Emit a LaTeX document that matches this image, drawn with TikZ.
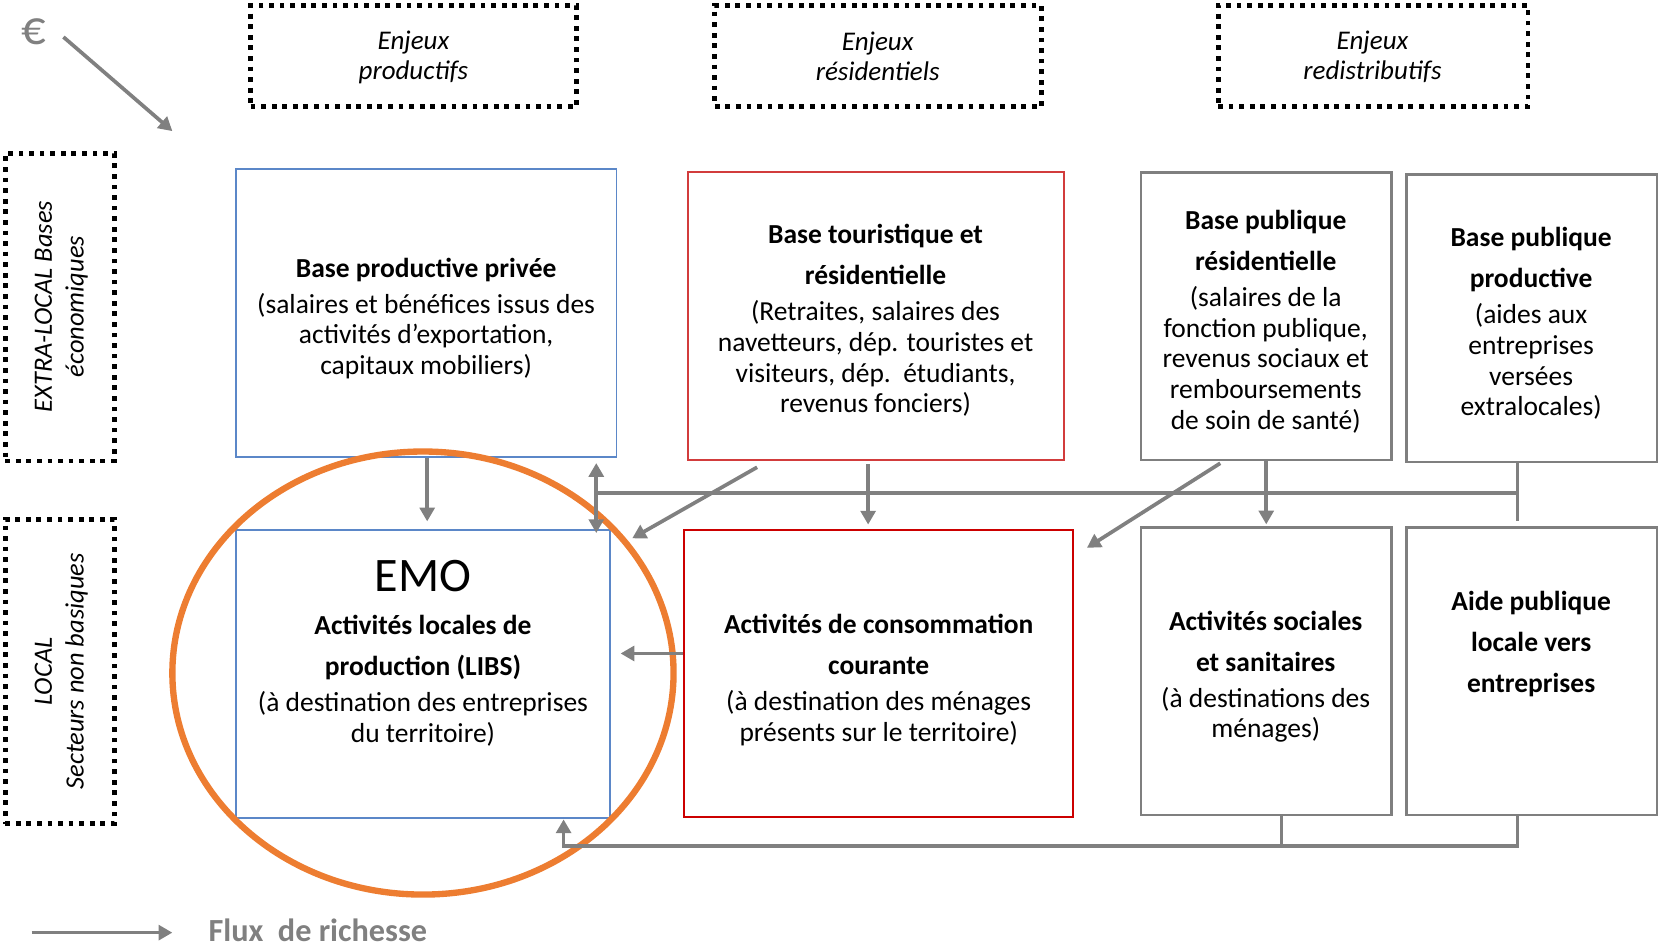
\documentclass[tikz,border=0pt]{standalone}
\usepackage{fontspec}
\setmainfont{Carlito}
\usetikzlibrary{arrows.meta,calc}
\definecolor{bblue}{HTML}{5B87C8}
\definecolor{bredA}{HTML}{D23C3C}
\definecolor{bredB}{HTML}{CC0000}
\definecolor{bgray}{HTML}{7F7F7F}
\definecolor{agray}{HTML}{808080}
\definecolor{eorange}{HTML}{ED7D31}
\tikzset{
  box/.style={rectangle, inner sep=0pt, line width=1.8pt, fill=white},
  bluebox/.style={box, draw=bblue},
  redboxA/.style={box, draw=bredA},
  redboxB/.style={box, draw=bredB},
  graybox/.style={box, draw=bgray, line width=2.2pt},
  dotbox/.style={rectangle, inner sep=0pt, draw=black, line width=4.5pt, dash pattern=on 4.5pt off 5.5pt},
  txt/.style={align=center, inner sep=0pt, text=black, font=\fontsize{26}{29}\selectfont},
  enj/.style={align=center, inner sep=0pt, text=black, font=\itshape\fontsize{25.5}{28}\selectfont},
  side/.style={align=center, inner sep=0pt, text=black, rotate=90, font=\itshape\fontsize{25}{30}\selectfont},
  gline/.style={draw=agray, line width=3.5pt},
  flow/.style={gline, -{Triangle[length=13pt,width=14pt]}},
  flowboth/.style={gline, {Triangle[length=13pt,width=14pt]}-{Triangle[length=13pt,width=14pt]}},
}
\begin{document}
\begin{tikzpicture}[x=1pt,y=-1pt]
\useasboundingbox (0,0) rectangle (1568,897);

% header dotted boxes
\node[dotbox, minimum width=308pt, minimum height=96pt] (ep) at (391,53) {};
\node[dotbox, minimum width=309pt, minimum height=96pt] (er) at (830.5,53) {};
\node[dotbox, minimum width=293pt, minimum height=96pt] (ed) at (1298.5,53) {};
\node[enj] (ept) at (391,54) {Enjeux\\productifs};
\node[enj] (ert) at (830,53) {Enjeux\\résidentiels};
\node[enj] (edt) at (1298,54) {Enjeux\\redistributifs};

% side dotted boxes
\node[dotbox, minimum width=103pt, minimum height=291pt] (xl) at (56.5,290.5) {};
\node[dotbox, minimum width=103pt, minimum height=288pt] (lo) at (56.5,635) {};
\node[side] (xlt) at (58,290) {EXTRA-LOCAL Bases\\économiques};
\node[side] (lot) at (58,635) {LOCAL\\Secteurs non basiques};

% top boxes
\node[bluebox, minimum width=360pt, minimum height=272pt] (bpp) at (403,296) {};
\node[redboxA, minimum width=355pt, minimum height=272pt] (btr) at (828.5,299) {};
\node[graybox, minimum width=237pt, minimum height=272pt] (bpr) at (1197.5,299) {};
\node[graybox, minimum width=237pt, minimum height=272pt] (bpq) at (1448.5,301) {};

% bottom boxes
\node[bluebox, minimum width=354pt, minimum height=273pt] (emo) at (400,637.5) {};
\node[redboxB, minimum width=368pt, minimum height=272pt] (conso) at (831,637) {};
\node[graybox, minimum width=237pt, minimum height=272pt] (soc) at (1197.5,635) {};
\node[graybox, minimum width=237pt, minimum height=272pt] (aide) at (1448.5,635) {};

% texts
\node[txt] (bppt) at (403,301) {\textbf{Base productive privée}\\[5pt](salaires et bénéfices issus des\\activités d’exportation,\\capitaux mobiliers)};
\node[txt] (btrt) at (828,303) {\textbf{Base touristique et}\\[10pt]\textbf{résidentielle}\\[5pt](Retraites, salaires des\\navetteurs, dép. touristes et\\visiteurs, dép.\ \ étudiants,\\revenus fonciers)};
\node[txt] (bprt) at (1197,304) {\textbf{Base publique}\\[10pt]\textbf{résidentielle}\\[5pt](salaires de la\\fonction publique,\\revenus sociaux et\\remboursements\\de soin de santé)};
\node[txt] (bpqt) at (1448,306) {\textbf{Base publique}\\[10pt]\textbf{productive}\\[5pt](aides aux\\entreprises\\versées\\extralocales)};
\node[txt] (emot) at (400,617.5) {{\fontsize{45.5}{50}\selectfont EMO}\\[12pt]\textbf{Activités locales de}\\[10pt]\textbf{production (LIBS)}\\[5pt](à destination des entreprises\\du territoire)};
\node[txt] (consot) at (831,643) {\textbf{Activités de consommation}\\[10pt]\textbf{courante}\\[5pt](à destination des ménages\\présents sur le territoire)};
\node[txt] (soct) at (1197,640) {\textbf{Activités sociales}\\[10pt]\textbf{et sanitaires}\\[5pt](à destinations des\\ménages)};
\node[txt] (aidet) at (1448,609) {\textbf{Aide publique}\\[10pt]\textbf{locale vers}\\[10pt]\textbf{entreprises}};

% orange ellipse
\draw[eorange, line width=6pt] (400,636.5) ellipse [x radius=237, y radius=209.5];

% euro and arrow
\node[inner sep=0pt, text=agray, font=\fontsize{46}{48}\selectfont] (eur) at (32,30) {€};
\coordinate (eurs) at ($(eur)+(28,5)$);
\coordinate (eure) at (163,124);
\draw[flow] (eurs) -- (eure);

% base productive -> EMO
\draw[flow] ($(bpp.south)+(1,0)$) -- ($(bpp.south |- emo.north)+(1,-7)$);

% double arrow and horizontal bus
\coordinate (d1) at ($(bpp.south east)+(-20,5)$);
\coordinate (d2) at ($(emo.north east)+(-14,4)$);
\draw[flowboth] (d1) -- (d2);
\coordinate (hL) at ($(d1)+(0,28)$);
\coordinate (v1) at ($(bpq.south)+(-13.5,0)$);
\coordinate (v2) at ($(v1)+(0,55)$);
\coordinate (hR) at (hL -| v1);
\draw[gline] (hL) -- (hR);
\draw[gline] (v1) -- (v2);

% tourist arrows
\coordinate (t1) at ($(btr.south)+(-112.5,6)$);
\coordinate (t2) at ($(emo.north east)+(20,9)$);
\draw[flow] (t1) -- (t2);
\coordinate (t3) at ($(btr.south)+(-7.5,3)$);
\draw[flow] (t3) -- ($(t3 |- conso.north)+(0,-4)$);

% public residential arrows
\coordinate (p1) at ($(bpr.south)+(-43.5,2)$);
\coordinate (p2) at ($(conso.north east)+(12,18)$);
\draw[flow] (p1) -- (p2);
\draw[flow] (bpr.south) -- ($(bpr.south |- soc.north)+(0,-2)$);

% conso -> EMO
\coordinate (c1) at ($(conso.west)+(0,-19)$);
\draw[flow] (c1) -- ($(emo.east |- c1)+(9,0)$);

% bottom loop
\coordinate (sb) at ($(soc.south)+(14.5,0)$);
\coordinate (ab) at ($(aide.south)+(-13.5,0)$);
\coordinate (eb) at ($(emo.south)+(133,0)$);
\coordinate (bl) at ($(eb)+(0,25)$);
\draw[gline] (sb) -- (sb |- bl);
\draw[flow] (ab) -- (ab |- bl) -- (bl) -- (eb);

% legend
\node[anchor=west, inner sep=0pt, text=agray, font=\bfseries\fontsize{30.5}{33}\selectfont] (leg) at (197,880) {Flux\ \ de richesse};
\coordinate (l1) at (30,882);
\coordinate (l2) at ($(leg.west |- l1)+(-34,0)$);
\draw[flow] (l1) -- (l2);
\end{tikzpicture}
\end{document}
